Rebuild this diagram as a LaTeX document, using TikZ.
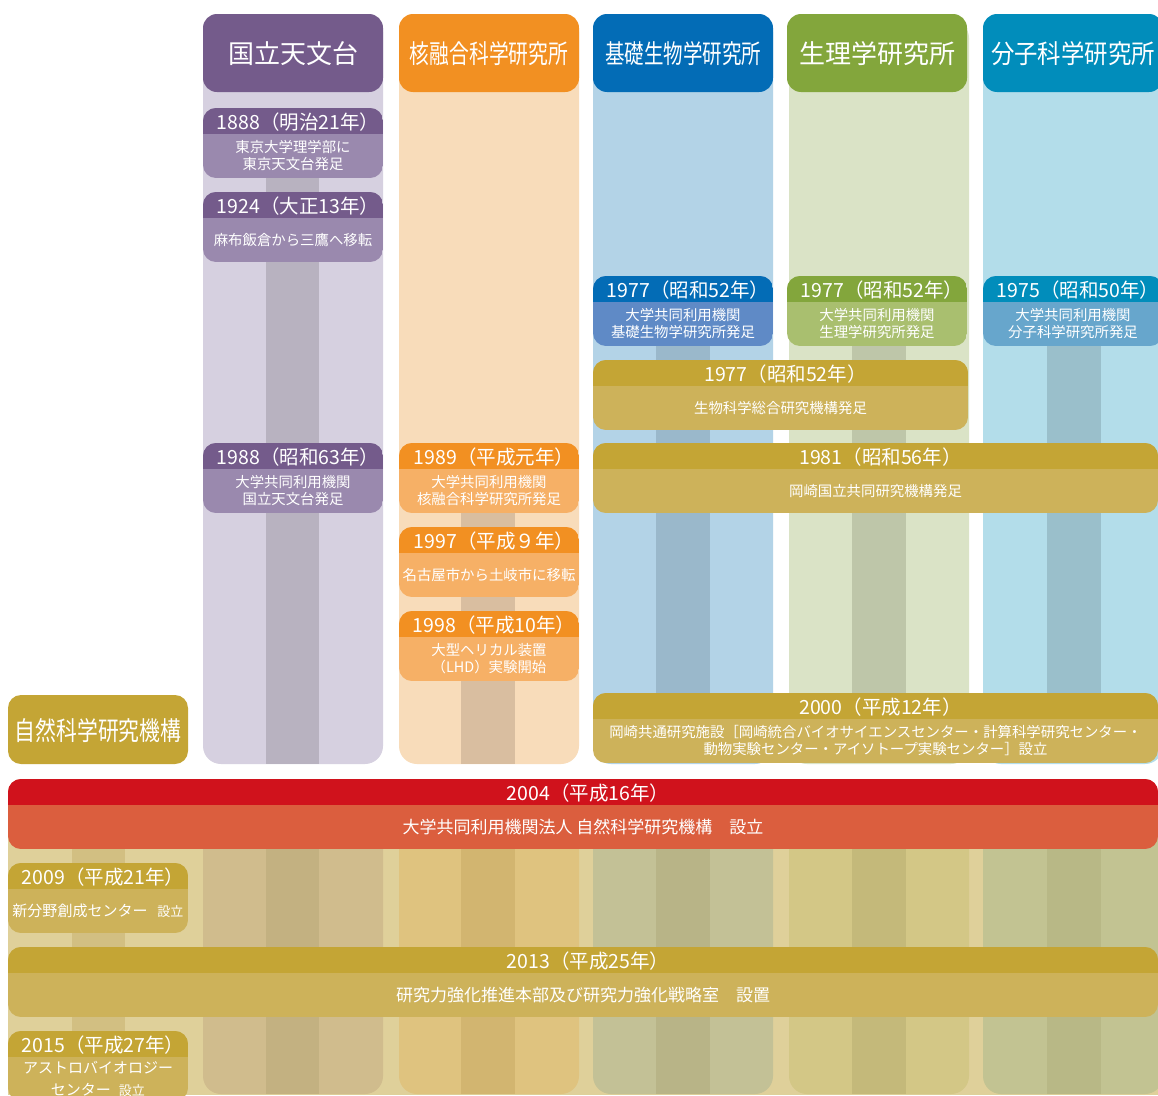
\documentclass[tikz,border=0pt]{standalone}
\usepackage{fontspec}
\usepackage{graphicx}
\setmainfont{Noto Sans CJK JP}
\definecolor{pH}{HTML}{745B8B}
\definecolor{pB}{HTML}{D6D0E0}
\definecolor{pS}{HTML}{B8B2C0}
\definecolor{pE}{HTML}{9A89AE}
\definecolor{oH}{HTML}{F29022}
\definecolor{oB}{HTML}{F8DCBA}
\definecolor{oS}{HTML}{D9BEA0}
\definecolor{oE}{HTML}{F6B066}
\definecolor{bH}{HTML}{036CB6}
\definecolor{bB}{HTML}{B3D3E7}
\definecolor{bS}{HTML}{9AB8CB}
\definecolor{bE}{HTML}{5F8AC6}
\definecolor{gH}{HTML}{83A63C}
\definecolor{gB}{HTML}{DAE3C6}
\definecolor{gS}{HTML}{BEC6A9}
\definecolor{gE}{HTML}{A9BF6F}
\definecolor{cH}{HTML}{018DBB}
\definecolor{cB}{HTML}{B3DDEA}
\definecolor{cS}{HTML}{9ABFCB}
\definecolor{cE}{HTML}{67A6CC}
\definecolor{yH}{HTML}{C4A535}
\definecolor{yE}{HTML}{CDB25A}
\definecolor{rH}{HTML}{D0121C}
\definecolor{rE}{HTML}{DB5E3E}
\definecolor{tanBG}{HTML}{DFD09A}
\definecolor{lzS}{HTML}{D2BF82}
\definecolor{laB}{HTML}{D0BC8D}
\definecolor{laS}{HTML}{C3B181}
\definecolor{lbB}{HTML}{DFC37F}
\definecolor{lbS}{HTML}{D2B570}
\definecolor{lcB}{HTML}{C3C196}
\definecolor{lcS}{HTML}{B8B487}
\definecolor{ldB}{HTML}{D3C786}
\definecolor{ldS}{HTML}{C4B97A}
\definecolor{leB}{HTML}{C2C392}
\definecolor{leS}{HTML}{B8B886}
\newcommand\evbox[9]{%
  \begin{scope}
    \clip[rounded corners=13pt] (#1,#2) rectangle (#3,#2+70);
    \fill[#5] (#1,#2) rectangle (#3,#2+70);
    \fill[#4] (#1,#2) rectangle (#3,#2+26);
  \end{scope}
  \node[yr] (#6y) at ({(#1+#3)/2+5},#2+14) {#7};
  \node[#8] (#6t) at ({(#1+#3)/2},#2+48) {#9};
}
\newcommand\smalltxt[1]{{\fontsize{13}{14}\selectfont #1}}
\begin{document}
\begin{tikzpicture}[x=1pt,y=-1pt,
  ttl/.style={text=white, font=\fontsize{26}{30}\selectfont, inner sep=0pt},
  yr/.style={text=white, font=\fontsize{19.5}{22}\selectfont, inner sep=0pt},
  dsc/.style={text=white, font=\fontsize{14.4}{17}\selectfont, align=center, inner sep=0pt},
  dscL/.style={text=white, font=\fontsize{15}{22}\selectfont, align=center, inner sep=0pt},
  barT/.style={text=white, font=\fontsize{17}{20}\selectfont, align=center, inner sep=0pt}]
\useasboundingbox (0,0) rectangle (1158,1095);
\clip (0,0) rectangle (1158,1095);
\fill[white] (0,0) rectangle (1158,1095);

% upper column bodies
\fill[pB, rounded corners=18pt] (203,14) rectangle (383,764);
\fill[oB, rounded corners=18pt] (399,14) rectangle (579,764);
\fill[bB, rounded corners=18pt] (593,14) rectangle (773,764);
\fill[gB, rounded corners=18pt] (789,20) rectangle (969,764);
\fill[cB, rounded corners=18pt] (983,14) rectangle (1163,764);
% upper stripes
\fill[pS] (266,108) rectangle (319,764);
\fill[oS] (461,443) rectangle (515,764);
\fill[bS] (656,300) rectangle (710,720);
\fill[gS] (852,300) rectangle (906,720);
\fill[cS] (1047,300) rectangle (1101,720);

% lower region
\fill[tanBG] (8,795) rectangle (1158,1095);
\fill[lzS] (72,795) rectangle (125,1095);
\fill[laB, rounded corners=18pt] (203,795) rectangle (383,1094);
\fill[lbB, rounded corners=18pt] (399,795) rectangle (579,1094);
\fill[lcB, rounded corners=18pt] (593,795) rectangle (773,1094);
\fill[ldB, rounded corners=18pt] (789,795) rectangle (969,1094);
\fill[leB, rounded corners=18pt] (983,795) rectangle (1163,1094);
\fill[laS] (266,795) rectangle (319,1094);
\fill[lbS] (461,795) rectangle (515,1094);
\fill[lcS] (656,795) rectangle (710,1094);
\fill[ldS] (852,795) rectangle (906,1094);
\fill[leS] (1047,795) rectangle (1101,1094);

% headers
\fill[pH, rounded corners=14pt] (203,14) rectangle (383,92);
\fill[oH, rounded corners=14pt] (399,14) rectangle (579,92);
\fill[bH, rounded corners=14pt] (593,14) rectangle (773,92);
\fill[gH, rounded corners=14pt] (787,14) rectangle (967,92);
\fill[cH, rounded corners=14pt] (983,14) rectangle (1163,92);
\node[ttl] (h1) at (293,54) {国立天文台};
\node[ttl] (h2) at (489,54) {\scalebox{0.76}[1]{核融合科学研究所}};
\node[ttl] (h3) at (683,54) {\scalebox{0.75}[1]{基礎生物学研究所}};
\node[ttl] (h4) at (877,54) {生理学研究所};
\node[ttl] (h5) at (1073,54) {\scalebox{0.9}[1]{分子科学研究所}};

% NINS label
\fill[yH, rounded corners=13pt] (8,695) rectangle (188,764);
\node[ttl] (nins) at (98,731) {\scalebox{0.8}[1]{自然科学研究機構}};

% events: col1
\evbox{203}{108}{383}{pH}{pE}{a1}{1888（明治21年）}{dsc}{東京大学理学部に\\東京天文台発足}
\evbox{203}{192}{383}{pH}{pE}{a2}{1924（大正13年）}{dsc}{麻布飯倉から三鷹へ移転}
\evbox{203}{443}{383}{pH}{pE}{a3}{1988（昭和63年）}{dsc}{大学共同利用機関\\国立天文台発足}
% col2
\evbox{399}{443}{579}{oH}{oE}{b1}{1989（平成元年）}{dsc}{大学共同利用機関\\核融合科学研究所発足}
\evbox{399}{527}{579}{oH}{oE}{b2}{1997（平成９年）}{dsc}{名古屋市から土岐市に移転}
\evbox{399}{611}{579}{oH}{oE}{b3}{1998（平成10年）}{dsc}{大型ヘリカル装置\\（LHD）実験開始}
% col3-5
\evbox{593}{276}{773}{bH}{bE}{c1}{1977（昭和52年）}{dsc}{大学共同利用機関\\基礎生物学研究所発足}
\evbox{787}{276}{967}{gH}{gE}{d1}{1977（昭和52年）}{dsc}{大学共同利用機関\\生理学研究所発足}
\evbox{983}{276}{1163}{cH}{cE}{e1}{1975（昭和50年）}{dsc}{大学共同利用機関\\分子科学研究所発足}
% joint
\evbox{593}{360}{968}{yH}{yE}{f1}{1977（昭和52年）}{dsc}{生物科学総合研究機構発足}
\evbox{593}{443}{1158}{yH}{yE}{f2}{1981（昭和56年）}{dsc}{岡崎国立共同研究機構発足}
\evbox{593}{693}{1158}{yH}{yE}{f3}{2000（平成12年）}{dsc}{岡崎共通研究施設［岡崎統合バイオサイエンスセンター・計算科学研究センター・\\動物実験センター・アイソトープ実験センター］設立}
% lower
\evbox{8}{779}{1158}{rH}{rE}{g1}{2004（平成16年）}{barT}{大学共同利用機関法人 自然科学研究機構　設立}
\evbox{8}{863}{188}{yH}{yE}{g2}{2009（平成21年）}{dscL}{新分野創成センター\hspace{10pt}\smalltxt{設立}}
\evbox{8}{947}{1158}{yH}{yE}{g3}{2013（平成25年）}{barT}{研究力強化推進本部及び研究力強化戦略室　設置}
\evbox{8}{1031}{188}{yH}{yE}{g4}{2015（平成27年）}{dscL}{アストロバイオロジー\\センター\hspace{8pt}\smalltxt{設立}}
\end{tikzpicture}
\end{document}
